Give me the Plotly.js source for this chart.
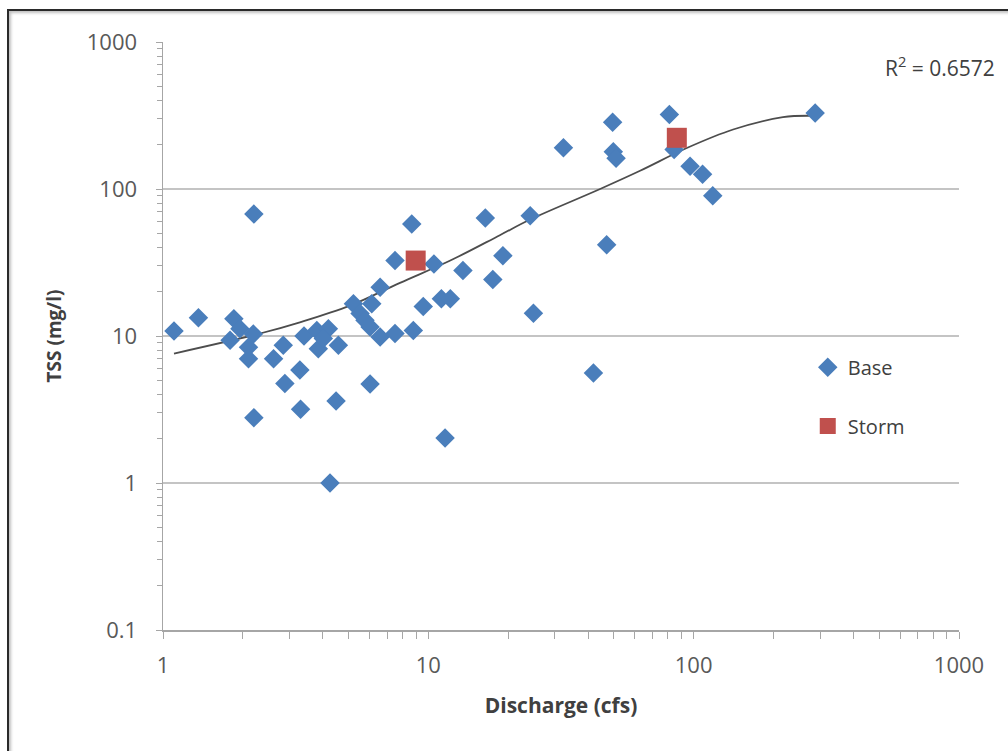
<!DOCTYPE html>
<html>
<head>
<meta charset="utf-8">
<script src="https://cdn.plot.ly/plotly-3.0.1.min.js"></script>
<style>
  html, body { margin: 0; padding: 0; background: #fff; overflow: hidden; }
  #chart { position: absolute; left: 0; top: 0; width: 1008px; height: 751px; }
  #frame { position: absolute; left: 7px; top: 9px; width: 1100px; height: 900px;
           border-left: 2px solid #2a2a2a; border-top: 2px solid #2a2a2a;
           box-shadow: inset 2px 2px 3px rgba(0,0,0,0.25); pointer-events: none; }
</style>
</head>
<body>
<div id="chart"></div>
<div id="frame"></div>
<script>
// Base samples: discharge (cfs) and TSS (mg/l)
const baseDischarge = [1.10, 1.36, 2.20, 1.85, 1.79, 1.95, 2.19, 2.10, 2.10, 2.61,
  2.84, 3.28, 2.88, 3.30, 2.20, 4.49, 4.26, 3.40, 3.80, 4.20,
  3.85, 4.58, 4.02, 5.22, 5.53, 6.12, 6.58, 6.03, 6.58, 7.49,
  8.78, 9.57, 7.49, 8.66, 10.5, 11.2, 12.1, 6.03, 11.56, 16.4,
  24.2, 47.0, 19.1, 13.5, 17.5, 24.9, 41.9, 32.3, 49.5, 49.8,
  51.0, 81, 84.4, 96.9, 108, 118, 287, 5.77];
const baseTSS = [10.8, 13.3, 67.5, 13.1, 9.35, 11.2, 10.3, 8.4, 7.0, 7.0,
  8.65, 5.86, 4.76, 3.17, 2.78, 3.61, 1.0, 10.0, 10.9, 11.2,
  8.2, 8.65, 9.6, 16.6, 14.2, 16.6, 21.5, 11.5, 9.85, 10.4,
  10.9, 15.9, 32.6, 57.7, 30.9, 17.9, 17.9, 4.71, 2.02, 63.4,
  65.8, 41.8, 35.2, 27.9, 24.2, 14.3, 5.61, 191, 285, 179,
  162, 321, 186, 143, 126, 89.8, 329, 12.8];

// Storm samples
const stormDischarge = [8.96, 86.4];
const stormTSS = [32.6, 223];

// Trendline
const trendDischarge = [1.10, 2.32, 3.28, 5.07, 7.82, 12.1, 18.6, 24.2, 44.4, 62.8, 94.2, 140.8, 217, 275];
const trendTSS = [7.6, 10.4, 12.4, 16.1, 23.0, 32.6, 48.5, 62.0, 100, 133, 190, 254, 308, 315];

const xTickVals = [1, 10, 100, 1000];
const xTickText = ['1', '10', '100', '1000'];
const yTickVals = [0.1, 1, 10, 100, 1000];
const yTickText = ['0.1', '1', '10', '100', '1000'];
const r2Text = 'R<sup>2</sup> = 0.6572';

function minorLog(lo, hi) {
  const v = [];
  for (let e = lo; e < hi; e++) for (let m = 2; m <= 9; m++) v.push(m * Math.pow(10, e));
  return v;
}

const tickFont = { family: 'Open Sans, sans-serif', size: 22, color: '#595959' };
const axisGray = '#a6a6a6';

const traces = [
  { x: trendDischarge, y: trendTSS, type: 'scatter', mode: 'lines',
    line: { color: '#4d4d4d', width: 1.8, shape: 'spline', smoothing: 1 },
    showlegend: false, hoverinfo: 'skip' },
  { x: baseDischarge, y: baseTSS, type: 'scatter', mode: 'markers', name: 'Base',
    marker: { symbol: 'diamond', size: 15, color: '#4a7ebb' }, legend: 'legend' },
  { x: stormDischarge, y: stormTSS, type: 'scatter', mode: 'markers', name: 'Storm',
    marker: { symbol: 'square', size: 20, color: '#c0504d' }, legend: 'legend2' }
];

const layout = {
  width: 1008, height: 751,
  margin: { l: 163, r: 49, t: 42, b: 121 },
  paper_bgcolor: '#ffffff', plot_bgcolor: '#ffffff',
  xaxis: {
    type: 'log', range: [0, 3], showgrid: false, zeroline: false,
    showline: true, linecolor: axisGray, linewidth: 1.5,
    ticks: 'outside', ticklen: 7, tickcolor: axisGray, tickwidth: 1,
    tickmode: 'array', tickvals: xTickVals, ticktext: xTickText,
    minor: { tickmode: 'array', tickvals: minorLog(0, 3), ticks: 'outside', ticklen: 7, tickcolor: axisGray, showgrid: false },
    tickfont: tickFont, ticklabelstandoff: 8,
    title: { text: 'Discharge (cfs)', font: { family: 'Open Sans, sans-serif', size: 21, color: '#404040', weight: 'bold' }, standoff: 20 }
  },
  yaxis: {
    type: 'log', range: [-1, 3], showgrid: true, gridcolor: '#c4c4c4', gridwidth: 1.6, zeroline: false,
    showline: true, linecolor: axisGray, linewidth: 1.5,
    ticks: 'outside', ticklen: 6, tickcolor: axisGray, tickwidth: 1,
    tickmode: 'array', tickvals: yTickVals, ticktext: yTickText,
    minor: { tickmode: 'array', tickvals: minorLog(-1, 3), ticks: 'outside', ticklen: 5, tickcolor: axisGray, showgrid: false },
    tickfont: tickFont, ticklabelstandoff: 14,
    title: { text: 'TSS (mg/l)', font: { family: 'Open Sans, sans-serif', size: 19, color: '#404040', weight: 'bold' }, standoff: 20 }
  },
  legend: { x: 0.81, y: 0.447, xanchor: 'left', yanchor: 'middle', bgcolor: 'rgba(0,0,0,0)',
            font: { family: 'Open Sans, sans-serif', size: 20, color: '#404040' }, itemwidth: 30 },
  legend2: { x: 0.81, y: 0.347, xanchor: 'left', yanchor: 'middle', bgcolor: 'rgba(0,0,0,0)',
             font: { family: 'Open Sans, sans-serif', size: 20, color: '#404040' }, itemwidth: 30 },
  annotations: [
    { text: r2Text, xref: 'paper', yref: 'paper', x: 0.9045, y: 0.9575, xanchor: 'left', yanchor: 'middle',
      showarrow: false, font: { family: 'Open Sans, sans-serif', size: 21, color: '#404040' } }
  ],
  showlegend: true
};

Plotly.newPlot('chart', traces, layout, { staticPlot: true, displayModeBar: false });
</script>
</body>
</html>
